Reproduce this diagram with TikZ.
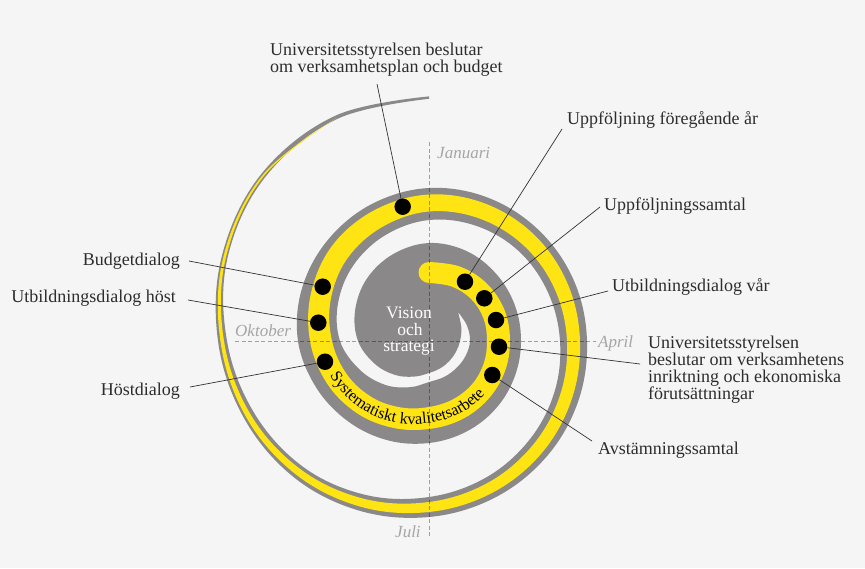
\documentclass[tikz,border=0pt]{standalone}
\usepackage{fontspec}
\setmainfont{Liberation Serif}
\usetikzlibrary{decorations.text}
\definecolor{bgc}{RGB}{245,245,245}
\definecolor{bandgray}{RGB}{138,136,136}
\definecolor{bandyel}{RGB}{255,228,20}
\definecolor{txt}{RGB}{45,45,45}
\definecolor{month}{RGB}{165,165,165}
\definecolor{conn}{RGB}{50,50,50}
\tikzset{
  dot/.style={circle, fill=black, minimum size=16.5pt, inner sep=0pt},
  lbl/.style={text=txt, font=\fontsize{18}{17}\selectfont, inner sep=0pt},
  mon/.style={text=month, font=\fontsize{17}{17}\selectfont\itshape, inner sep=0pt},
  vis/.style={text=white, font=\fontsize{17.5}{17}\selectfont, inner sep=0pt},
  conline/.style={draw=conn, line width=0.7pt},
  axisline/.style={draw=black, draw opacity=0.35, line width=0.8pt, dash pattern=on 4pt off 2.5pt},
  spir/.style={smooth, tension=0.62},
}
\begin{document}
\begin{tikzpicture}[x=1pt,y=-1pt]
\fill[bgc] (0,0) rectangle (865,568);
\useasboundingbox (0,0) rectangle (865,568);
\begin{scope}[shift={(429,341)}]
% gray spiral arm: outer edge outward from the crescent tip, inner edge back
\fill[bandgray] plot[spir] coordinates {(-405:41) (-382.5:35) (-360:31) (-337.5:29) (-315:28.5) (-292.5:29.5) (-270:32) (-247.5:38.5) (-225:48) (-202.5:59) (-180:71) (-157.5:80) (-135:88) (-112.5:94) (-90:98) (-67.5:97.5) (-45:95) (-22.5:93) (0:92) (22.5:92.8) (45:95) (67.5:98) (90:102) (112.5:107.5) (135:114) (157.5:122) (180:131) (202.5:137.5) (225:143) (247.5:148.5) (270:153) (292.5:155) (315:156) (337.5:157) (360:158) (382.5:161) (405:165) (427.5:170) (450:176) (472.5:183.5) (495:192) (517.5:200.5) (540:211) (562.5:224) (585:236.7) (607.5:244) (630:244.6)}
 -- plot[spir] coordinates {(630:242.2) (607.5:240.3) (585:231.7) (562.5:218) (540:202) (517.5:189) (495:178) (472.5:166.5) (450:156) (427.5:148) (405:141) (382.5:135.5) (360:131) (337.5:128.5) (315:127) (292.5:124.5) (270:121) (247.5:114.5) (225:107) (202.5:98.5) (180:89) (157.5:75) (135:62) (112.5:50) (90:41) (67.5:39) (45:38.5) (22.5:39.5) (0:41) (-22.5:41) (-45:41)} -- cycle;
% yellow stripe
\fill[bandyel] plot[spir] coordinates {(-90:79) (-67.5:80.6) (-45:81.5) (-22.5:81.6) (0:81) (22.5:81.8) (45:83) (67.5:85) (90:88) (112.5:94) (135:102) (157.5:110.5) (180:119) (202.5:127.5) (225:136) (247.5:141.8) (270:146.5) (292.5:148.5) (315:149.5) (337.5:150) (360:151) (382.5:154.2) (405:159) (427.5:164.5) (450:171) (472.5:179.3) (495:188.5) (517.5:198.1) (540:208.6) (562.5:222.3) (585:235) (607.5:241.5)}
 -- plot[spir] coordinates {(607.5:241.5) (585:233.4) (562.5:219.7) (540:205) (517.5:192.9) (495:181.5) (472.5:170.7) (450:161) (427.5:153.5) (405:147) (382.5:141.8) (360:138) (337.5:136) (315:134.5) (292.5:132.5) (270:129.5) (247.5:123.2) (225:116) (202.5:106.5) (180:97) (157.5:88.5) (135:80) (112.5:72) (90:66) (67.5:63) (45:61) (22.5:59.2) (0:58) (-22.5:59) (-45:59.5) (-67.5:59) (-90:58)} -- cycle;
\fill[bandyel] (-90:68.5) circle[radius=10.5];
% curved text
\path[decorate, decoration={text along path, text align=center,
  text={|\fontsize{16.2}{16}\selectfont|Systematiskt kvalitetsarbete}}]
  plot[smooth, tension=0.62] coordinates {(180:113) (157.5:104) (135:96) (112.5:88) (90:82) (67.5:79) (45:77) (22.5:75.5) (15:75)};
\end{scope}
% axes
\draw[axisline] (429,142) -- (429,538);
\draw[axisline] (235,341) -- (596,341);
\node[mon, anchor=base west] (jan) at (437,158) {Januari};
\node[mon, anchor=base west] (okt) at (235,336) {Oktober};
\node[mon, anchor=base west] (apr) at (598,347) {April};
\node[mon, anchor=base west] (jul) at (395,537) {Juli};
% centre text
\node[vis, anchor=base] (vis1) at (409,318) {Vision};
\node[vis, anchor=base] (vis2) at (410,335) {och};
\node[vis, anchor=base] (vis3) at (409,351.5) {strategi};
% dots
\node[dot] (dtop) at (402.7,206.7) {};
\node[dot] (dbud) at (322.7,286.7) {};
\node[dot] (dhost) at (318.3,322.7) {};
\node[dot] (dhd) at (325,361.7) {};
\node[dot] (dfor) at (465,281.7) {};
\node[dot] (dupp) at (484.3,298.3) {};
\node[dot] (dvar) at (496,320) {};
\node[dot] (dinr) at (499,346.7) {};
\node[dot] (davs) at (492.3,375) {};
% labels (base anchor = baseline of the last line)
\node[lbl, anchor=base west, align=left] (ltop) at (270,72) {Universitetsstyrelsen beslutar\\om verksamhetsplan och budget};
\node[lbl, anchor=base west] (lfor) at (567,124.5) {Uppföljning föregående år};
\node[lbl, anchor=base west] (lupp) at (604,210) {Uppföljningssamtal};
\node[lbl, anchor=base west] (lvar) at (612,291.5) {Utbildningsdialog vår};
\node[lbl, anchor=base west, align=left] (linr) at (648,399.5) {Universitetsstyrelsen\\beslutar om verksamhetens\\inriktning och ekonomiska\\förutsättningar};
\node[lbl, anchor=base west] (lavs) at (598,454) {Avstämningssamtal};
\node[lbl, anchor=base east] (lbud) at (180,265) {Budgetdialog};
\node[lbl, anchor=base east] (lhost) at (176,302.7) {Utbildningsdialog höst};
\node[lbl, anchor=base east] (lhd) at (180,395) {Höstdialog};
% connector ends
\coordinate (ctop) at (377,84);
\coordinate (cfor) at (562,129);
\coordinate (cupp) at (600,207);
\coordinate (cvar) at (608,291);
\coordinate (cinr) at (640,364);
\coordinate (cavs) at (592,441);
\coordinate (cbud) at (189,261);
\coordinate (chost) at (188,300);
\coordinate (chd) at (190,387);
\draw[conline] (dtop) -- (ctop);
\draw[conline] (dfor) -- (cfor);
\draw[conline] (dupp) -- (cupp);
\draw[conline] (dvar) -- (cvar);
\draw[conline] (dinr) -- (cinr);
\draw[conline] (davs) -- (cavs);
\draw[conline] (dbud) -- (cbud);
\draw[conline] (dhost) -- (chost);
\draw[conline] (dhd) -- (chd);
\end{tikzpicture}
\end{document}
